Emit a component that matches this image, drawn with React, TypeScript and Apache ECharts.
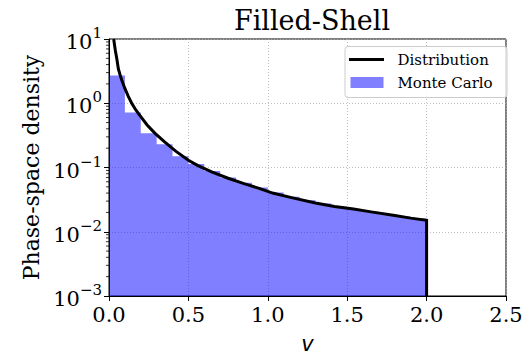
import React, { useEffect, useRef } from "react";
import * as echarts from "echarts";

// Distribution curve: [v, density]
const curveV = [0.0296, 0.035, 0.04, 0.05, 0.059, 0.07, 0.08, 0.1, 0.12, 0.143, 0.17, 0.2, 0.24, 0.29, 0.35, 0.42, 0.5, 0.56, 0.65, 0.75, 0.85, 0.95, 1.03, 1.15, 1.3, 1.42, 1.54, 1.65, 1.8, 1.9, 2.0, 2.0];
const curveF = [10, 8.0, 6.6, 4.8, 3.42, 2.75, 2.3, 1.7, 1.3, 1.0, 0.78, 0.62, 0.46, 0.34, 0.25, 0.18, 0.13, 0.107, 0.085, 0.068, 0.056, 0.047, 0.04, 0.034, 0.028, 0.0247, 0.0226, 0.0204, 0.0179, 0.0163, 0.0151, 0.001];

// Monte Carlo histogram: bin edges and heights
const binEdges = [0, 0.1, 0.2, 0.3, 0.4, 0.5, 0.6, 0.7, 0.8, 0.9, 1.0, 1.1, 1.2, 1.3, 1.4, 1.5, 1.6, 1.7, 1.8, 1.9, 2.0];
const binValues = [2.71, 0.72, 0.34, 0.23, 0.15, 0.113, 0.088, 0.07, 0.058, 0.049, 0.041, 0.0352, 0.031, 0.0275, 0.0246, 0.0226, 0.0204, 0.0187, 0.0173, 0.0161];

const xTicks = { min: 0, max: 2.5, interval: 0.5 };
const yRange = { min: 0.001, max: 10 };
const minorTickValues = [2, 3, 4, 5, 6, 7, 8, 9].flatMap((m) => [0.001, 0.01, 0.1, 1].map((d) => m * d));

const SERIF = "DejaVu Serif";

export default function App() {
  const ref = useRef<HTMLDivElement>(null);
  useEffect(() => {
    if (!ref.current) return;
    const chart = echarts.init(ref.current, null, { renderer: "svg" });
    const lineData = curveV.map((v, i) => [v, curveF[i]]);
    const gridLeft = 109, gridTop = 39, gridRight = 26, gridBottom = 54;
    chart.setOption({
      animation: false,
      backgroundColor: "#ffffff",
      title: {
        text: "Filled-Shell",
        left: 307,
        top: 2,
        textAlign: "center",
        textStyle: { fontFamily: SERIF, fontSize: 27, fontWeight: "normal", color: "#000" },
      },
      grid: {
        left: gridLeft, top: gridTop, right: gridRight, bottom: gridBottom,
        show: true, borderColor: "#000", borderWidth: 1, backgroundColor: "transparent",
      },
      xAxis: {
        type: "value",
        min: xTicks.min, max: xTicks.max, interval: xTicks.interval,
        name: "v",
        nameLocation: "middle",
        nameGap: 37,
        nameTextStyle: { fontFamily: "DejaVu Sans", fontStyle: "italic", fontSize: 21, color: "#000" },
        axisLine: { show: true, onZero: false, lineStyle: { color: "#000", width: 1 } },
        axisTick: { show: true, inside: false, length: 5, lineStyle: { color: "#000" } },
        axisLabel: { fontFamily: SERIF, fontSize: 21, color: "#000", margin: 8, formatter: (v: number) => v.toFixed(1) },
        splitLine: { show: true, lineStyle: { color: "#b0b0b0", type: [1, 2], width: 0.8 } },
      },
      yAxis: {
        type: "log",
        logBase: 10,
        min: yRange.min, max: yRange.max,
        name: "Phase-space density",
        nameLocation: "middle",
        nameGap: 63,
        nameTextStyle: { fontFamily: SERIF, fontSize: 22, color: "#000" },
        axisLine: { show: true, lineStyle: { color: "#000", width: 1 } },
        axisTick: { show: true, inside: false, length: 5, lineStyle: { color: "#000" } },
        axisLabel: {
          margin: 7,
          formatter: (v: number) => {
            const e = Math.round(Math.log10(v));
            return `{b|10}{s|${e < 0 ? "\u2212" : ""}${Math.abs(e)}}`;
          },
          rich: {
            b: { fontFamily: SERIF, fontSize: 21, color: "#000", verticalAlign: "bottom", lineHeight: 27 },
            s: { fontFamily: SERIF, fontSize: 15, color: "#000", verticalAlign: "top", lineHeight: 15 },
          },
        },
        splitLine: { show: true, lineStyle: { color: "#b0b0b0", type: [1, 2], width: 0.8 } },
      },
      series: [
        {
          type: "custom",
          name: "Monte Carlo",
          data: [[binEdges[0], binValues[0]]],
          encode: { x: 0, y: 1 },
          clip: true,
          renderItem: (params: any, api: any) => {
            const pts: number[][] = [];
            pts.push(api.coord([binEdges[0], yRange.min]));
            binValues.forEach((h, i) => {
              pts.push(api.coord([binEdges[i], h]));
              pts.push(api.coord([binEdges[i + 1], h]));
            });
            pts.push(api.coord([binEdges[binEdges.length - 1], yRange.min]));
            return {
              type: "polygon",
              shape: { points: pts },
              style: { fill: "rgba(0,0,255,0.5)" },
            };
          },
          z: 2,
        },
        {
          type: "line",
          name: "Distribution",
          data: lineData,
          symbol: "none",
          clip: true,
          lineStyle: { color: "#000", width: 3, join: "miter" },
          z: 3,
        },
        {
          type: "custom",
          name: "minorTicks",
          data: minorTickValues.map((v) => [xTicks.min, v]),
          encode: { x: 0, y: 1 },
          clip: false,
          silent: true,
          renderItem: (params: any, api: any) => {
            const p = api.coord([api.value(0), api.value(1)]);
            return {
              type: "line",
              shape: { x1: p[0] - 3, y1: p[1], x2: p[0], y2: p[1] },
              style: { stroke: "#000", lineWidth: 0.8 },
            };
          },
          z: 4,
        },
      ],
      graphic: [
        {
          type: "rect",
          shape: { x: 345, y: 46.5, width: 162, height: 51, r: 3 },
          style: { fill: "rgba(255,255,255,0.8)", stroke: "#cccccc", lineWidth: 1 },
          z: 10,
        },
        {
          type: "line",
          shape: { x1: 349, y1: 59.5, x2: 384, y2: 59.5 },
          style: { stroke: "#000", lineWidth: 3 },
          z: 11,
        },
        {
          type: "rect",
          shape: { x: 350.5, y: 77, width: 33, height: 11 },
          style: { fill: "rgba(0,0,255,0.5)" },
          z: 11,
        },
        {
          type: "text",
          x: 397.5, y: 59.5,
          style: { text: "Distribution", fontFamily: SERIF, fontSize: 15, fill: "#000", verticalAlign: "middle" },
          z: 11,
        },
        {
          type: "text",
          x: 397.5, y: 83,
          style: { text: "Monte Carlo", fontFamily: SERIF, fontSize: 15, fill: "#000", verticalAlign: "middle" },
          z: 11,
        },
      ],
    });
    return () => chart.dispose();
  }, []);
  return <div ref={ref} style={{ width: 532, height: 359, position: "absolute", left: 0, top: 0 }} />;
}
